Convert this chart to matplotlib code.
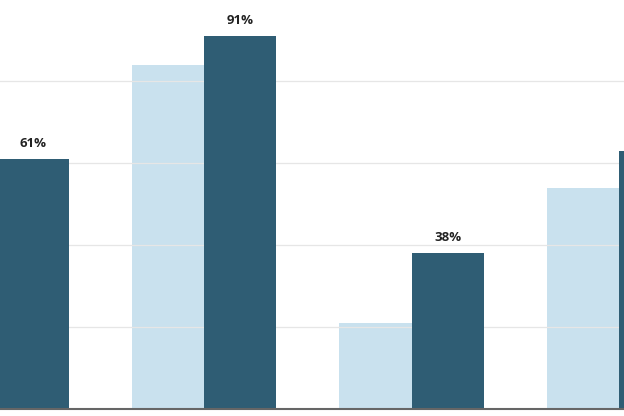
import matplotlib
matplotlib.use("Agg")
import matplotlib.pyplot as plt
import numpy as np

categories = ["Group A", "Group B", "Group C", "Group D"]
series_light = [None, 84, 21, 54]
series_dark = [61, 91, 38, 63]
dark_labels = ["61%", "91%", "38%", None]  # last label lies outside the visible crop
grid_ticks = [20, 40, 60, 80]

LIGHT = "#c9e1ee"
DARK = "#2f5d74"

fig = plt.figure(figsize=(6.24, 4.16), dpi=100)
ax = fig.add_axes([0, 0, 1, 1])

x = np.arange(len(categories))
w = 0.348

lx = [xi for xi, v in zip(x, series_light) if v is not None]
lv = [v for v in series_light if v is not None]
ax.bar(np.array(lx) - w / 2, lv, width=w, color=LIGHT, zorder=1)
ax.bar(x + w / 2, series_dark, width=w, color=DARK, zorder=3)

for yt in grid_ticks:
    ax.axhline(yt, color="#e6e6e6", lw=0.9, zorder=2)
ax.axhline(0, color="#666666", lw=1.5, zorder=4)

for xi, v, lab in zip(x, series_dark, dark_labels):
    if lab is None:
        continue
    ax.text(xi + w / 2, v + 2.2, lab, ha="center", va="bottom",
            fontsize=9.5, fontweight="bold", color="#222222",
            family=["Open Sans", "DejaVu Sans"], zorder=5)

ax.set_xlim(0.0169, 3.024)
ax.set_ylim(-1.78, 99.8)
ax.axis("off")

fig.savefig("out.png", dpi=100)
